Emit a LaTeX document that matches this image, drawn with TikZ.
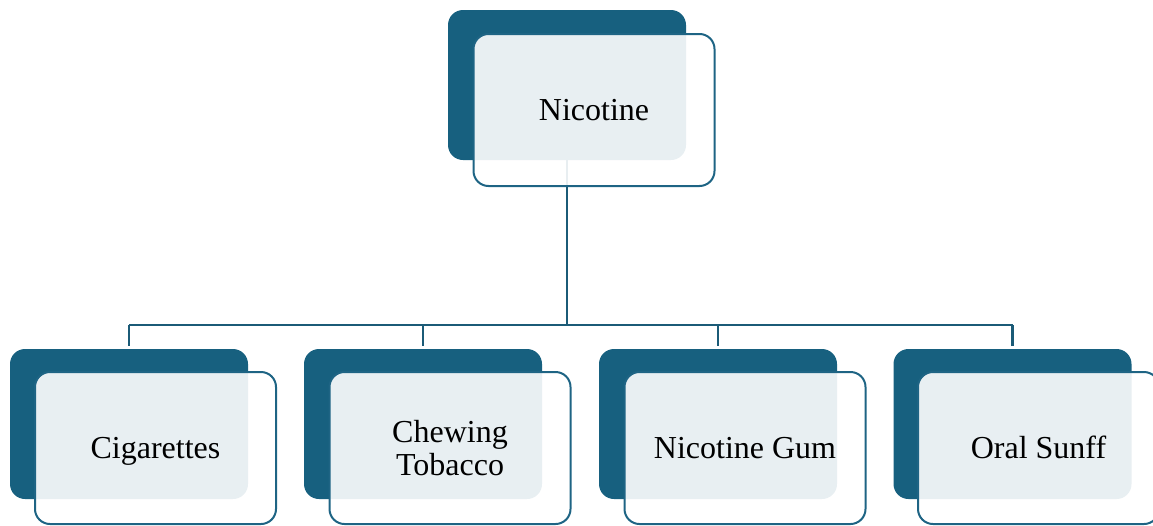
\documentclass[tikz,border=0pt]{standalone}
\usepackage{fontspec}
\setmainfont{Liberation Serif}
\pgfdeclarelayer{bg}
\pgfsetlayers{bg,main}
\definecolor{darkbox}{HTML}{17607F}
\definecolor{edgecol}{HTML}{1E6484}
\definecolor{linkcol}{HTML}{1B5B77}
\newcommand\boxtxt[1]{\rule{0pt}{0.891em}#1\rule[-0.216em]{0pt}{0.216em}}
\tikzset{
  backbox/.style={rectangle, rounded corners=15pt, fill=darkbox, draw=none,
    minimum width=238pt, minimum height=150pt, inner sep=0pt, outer sep=0pt},
  frontbox/.style={rectangle, rounded corners=15pt, fill=white, fill opacity=0.9,
    text opacity=1, draw=edgecol, draw opacity=1, line width=2pt,
    minimum width=241pt, minimum height=152pt, inner sep=0pt, outer sep=0pt,
    align=center, font=\fontsize{32}{33}\selectfont},
  linkline/.style={draw=linkcol, line width=2.2pt}
}
\begin{document}
\begin{tikzpicture}[x=1pt,y=-1pt]
\useasboundingbox (0,0) rectangle (1153,525);
\clip (0,0) rectangle (1153,525);
% top
\node[backbox] (topb) at (567,85) {};
\node[frontbox] (topf) at (594,110) {\boxtxt{Nicotine}};
% bottom
\node[backbox] (b1) at (129,424) {};
\node[frontbox] (f1) at (155.5,448) {\boxtxt{Cigarettes}};
\node[backbox] (b2) at (423,424) {};
\node[frontbox] (f2) at (450,448) {\boxtxt{Chewing\\Tobacco}};
\node[backbox] (b3) at (718,424) {};
\node[frontbox] (f3) at (745,448) {\boxtxt{Nicotine Gum}};
\node[backbox] (b4) at (1012.5,424) {};
\node[frontbox] (f4) at (1038.5,448) {\boxtxt{Oral Sunff}};
\coordinate (bus) at (567,325);
\begin{pgfonlayer}{bg}
\draw[linkline] (topb.south) -- (topb.south |- bus);
\draw[linkline] (b1.north |- bus) -- (b4.north |- bus);
\foreach \b in {b1,b2,b3,b4}
  \draw[linkline, shorten >=3pt] (\b.north |- bus) -- (\b.north);
\end{pgfonlayer}
\end{tikzpicture}
\end{document}
